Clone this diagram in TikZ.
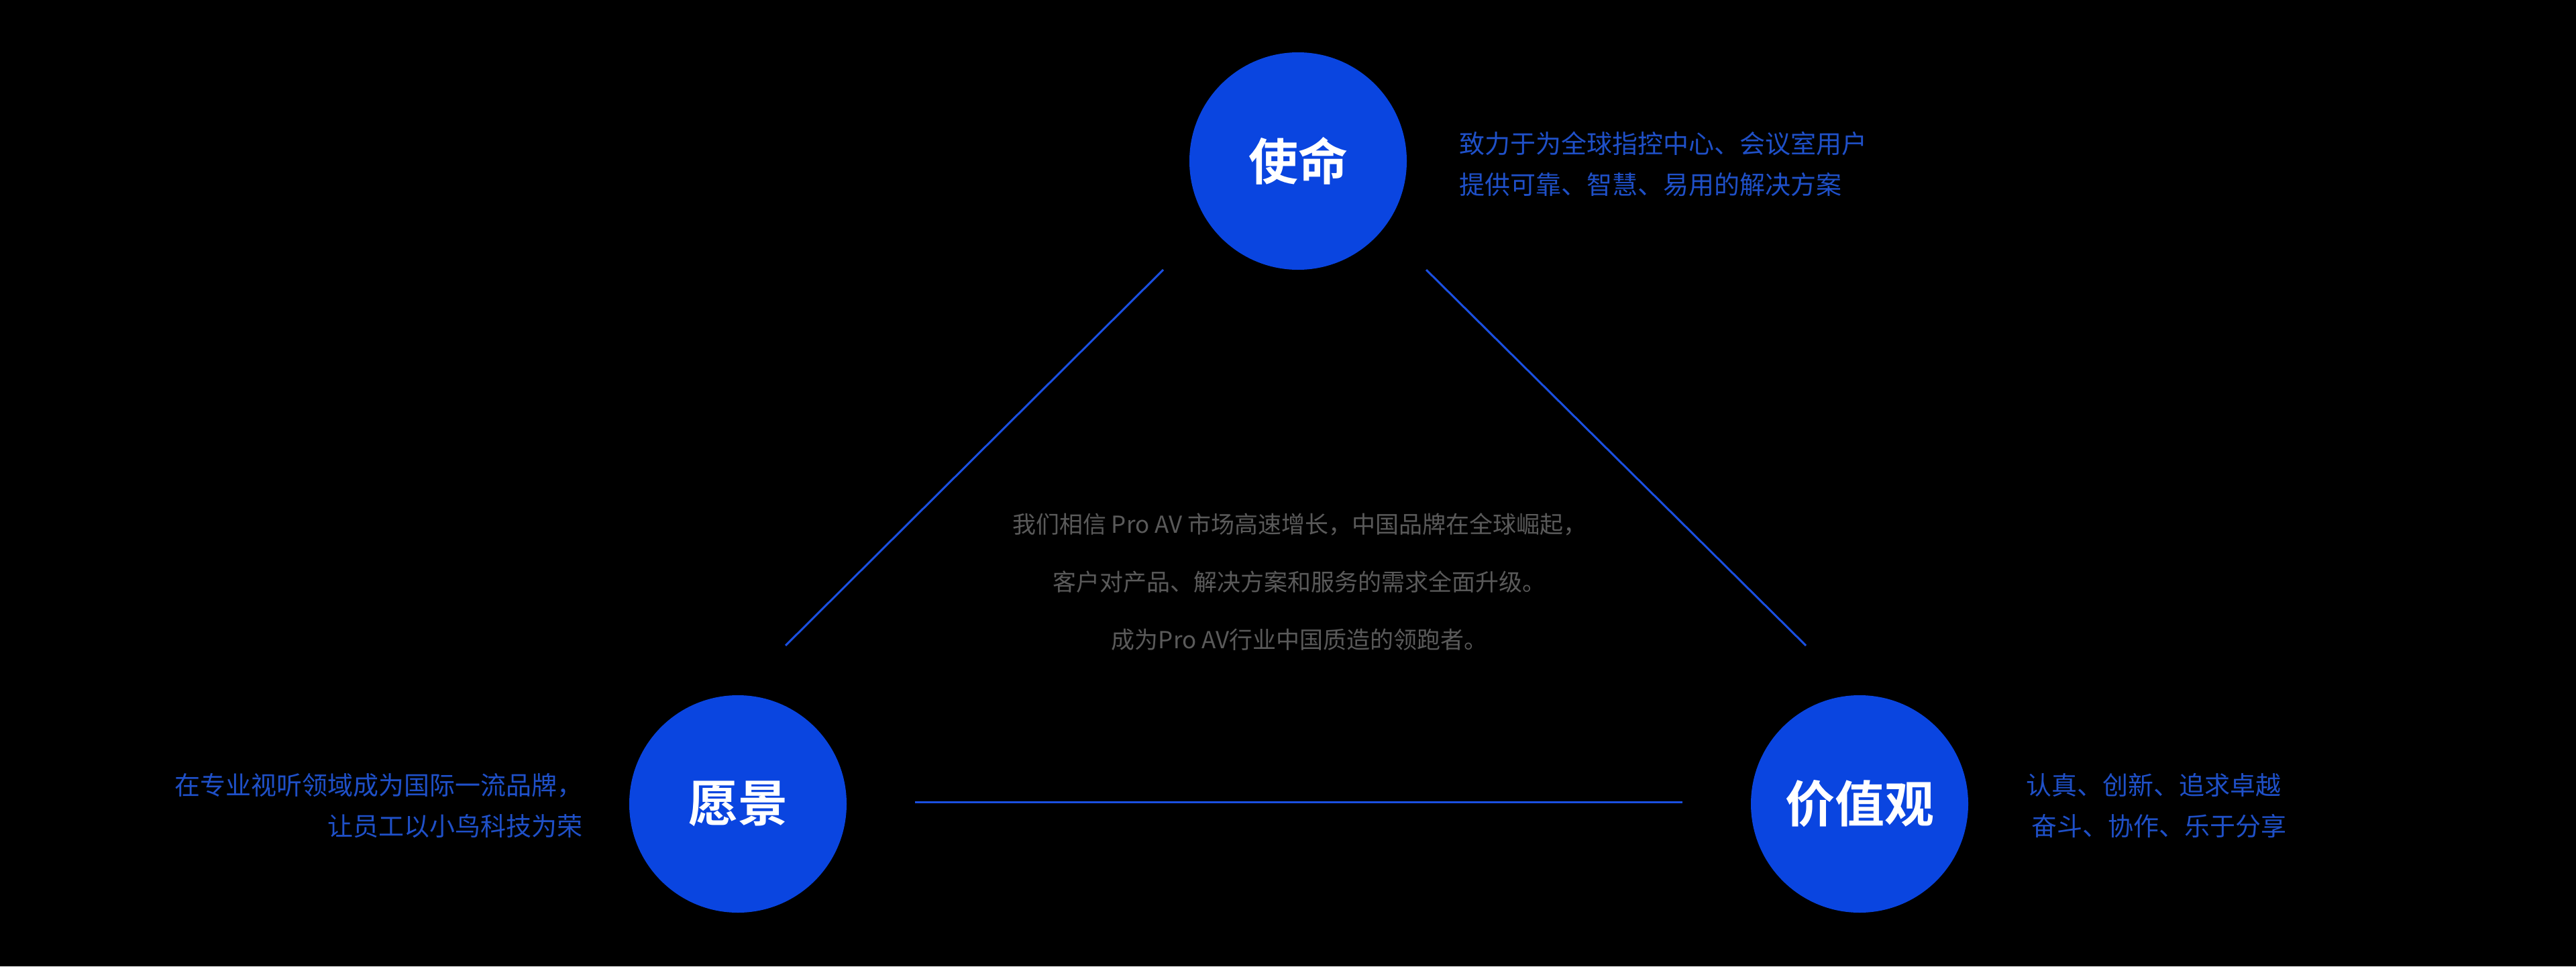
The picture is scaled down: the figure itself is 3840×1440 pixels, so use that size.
\documentclass[tikz,border=0pt]{standalone}
\usepackage{fontspec}
\setmainfont{Noto Sans CJK SC}
\newfontfamily\cjkb{Noto Sans CJK SC Bold}
\definecolor{cblue}{HTML}{0A45E0}
\definecolor{tblue}{HTML}{1F50C8}
\definecolor{lblue}{HTML}{1A4FE0}
\definecolor{tgray}{HTML}{5A5A5A}
\begin{document}
\begin{tikzpicture}[x=1pt,y=-1pt,
  circ/.style={circle,fill=cblue,minimum size=324pt,inner sep=0pt,text=white,font=\cjkb\fontsize{74}{80}\selectfont},
  conn/.style={draw=lblue,line width=3pt},
  btxt/.style={text=tblue,font=\fontsize{38}{61}\selectfont,inner sep=0pt},
  gtxt/.style={text=tgray,font=\fontsize{35}{40}\selectfont,inner sep=0pt}]
\fill[black] (0,0) rectangle (3840,1440);
\useasboundingbox (0,0) rectangle (3840,1440);
\node[circ] (m) at (1935,240) {使命};
\node[circ] (v) at (1100,1198) {愿景};
\node[circ] (j) at (2772,1198) {价值观};
\coordinate (a1) at (1734,402); \coordinate (a2) at (1171,962);
\coordinate (b1) at (2126,402); \coordinate (b2) at (2692,962);
\coordinate (c1) at (1364,1195); \coordinate (c2) at (2508,1195);
\draw[conn] (a1) -- (a2);
\draw[conn] (b1) -- (b2);
\draw[conn] (c1) -- (c2);
\node[btxt,anchor=north west,align=left] (mt) at (2175,196) {致力于为全球指控中心、会议室用户\\提供可靠、智慧、易用的解决方案};
\node[btxt,anchor=north east,align=right] (vt) at (869,1152) {在专业视听领域成为国际一流品牌，\\让员工以小鸟科技为荣};
\node[btxt,anchor=north west,align=left] (jt) at (3020,1152) {认真、创新、追求卓越\\\ 奋斗、协作、乐于分享};
\node[gtxt] (g1) at (1937,781) {我们相信 Pro AV 市场高速增长，中国品牌在全球崛起，};
\node[gtxt] (g2) at (1937,867) {客户对产品、解决方案和服务的需求全面升级。};
\node[gtxt] (g3) at (1937,953) {成为Pro AV行业中国质造的领跑者。};
\end{tikzpicture}
\end{document}
